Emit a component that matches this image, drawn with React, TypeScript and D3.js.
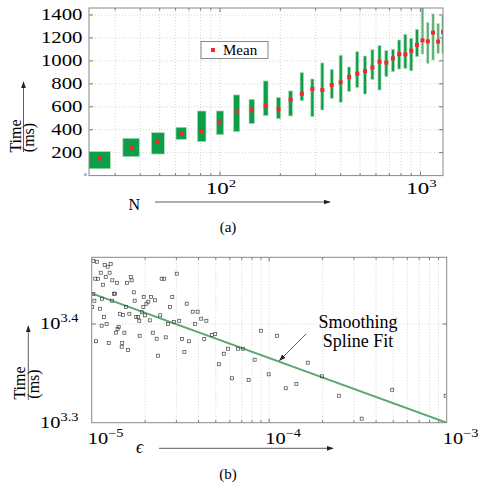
import * as d3 from 'd3';
import React, { useRef, useEffect } from 'react';

const W = 481;
const H = 485;
const FONT = '"Liberation Serif", "Times New Roman", serif';

// ---- panel (a): run time per problem size N (boxes = spread, dot = mean)
const sizesN = [25, 36, 49, 64, 81, 100, 121, 144, 169, 196, 225, 256, 289, 324, 361, 400,
  441, 484, 529, 576, 625, 676, 729, 784, 841, 900, 961, 1024, 1089, 1156, 1225, 1296];
const meanMs = [150, 249, 299, 366, 389, 464, 560, 569, 610, 578, 662, 714, 755, 746, 790, 813,
  859, 888, 911, 943, 993, 985, 1022, 1060, 1057, 1089, 1139, 1179, 1170, 1246, 1168, 1252];
const lowMs = [60, 165, 188, 316, 296, 357, 383, 453, 523, 496, 520, 653, 514, 572, 674, 639,
  734, 769, 711, 839, 746, 863, 906, 929, 935, 914, 1037, 1060, 978, 1008, 1066, 1066];
const highMs = [209, 325, 374, 421, 563, 563, 703, 665, 825, 682, 738, 897, 842, 982, 926, 1049,
  947, 1080, 1042, 1097, 1133, 1089, 1101, 1182, 1231, 1197, 1275, 1500, 1333, 1409, 1324, 1391];
const timeTicks = [200, 400, 600, 800, 1000, 1200, 1400];
const nMajor = [100, 1000];

// ---- panel (b): run time vs epsilon (log-log), with smoothing spline fit
const logEps = [-4.991, -4.970, -4.927, -4.910, -4.893, -4.949, -4.899, -4.980, -4.965, -4.921,
  -4.884, -4.858, -4.936, -4.801, -4.780, -4.775, -4.606, -4.591, -4.521, -4.991,
  -4.874, -4.869, -4.942, -4.985, -4.886, -4.763, -4.758, -4.707, -4.666, -4.681,
  -4.692, -4.643, -4.546, -4.465, -4.997, -4.953, -4.807, -4.709, -4.559, -4.431,
  -4.403, -4.383, -4.354, -4.841, -4.824, -4.788, -4.931, -4.749, -4.738, -4.732,
  -4.718, -4.700, -4.673, -4.614, -4.570, -4.536, -4.507, -4.418, -4.944, -4.916,
  -4.848, -4.854, -4.863, -4.816, -4.730, -4.656, -4.634, -4.583, -4.491, -4.452,
  -4.366, -4.976, -4.904, -4.828, -4.831, -4.796, -4.478, -4.627, -4.322, -4.304,
  -4.256, -4.232, -4.283, -4.176, -4.149, -4.210, -4.116, -4.082, -4.046, -4.003,
  -3.956, -3.907, -3.847, -3.783, -3.703, -3.607, -3.479, -3.307, -3.006];
const logTime = [3.4638, 3.4631, 3.4598, 3.4581, 3.4608, 3.4520, 3.4520, 3.4459, 3.4459, 3.4476,
  3.4443, 3.4418, 3.4398, 3.4418, 3.4476, 3.4443, 3.4459, 3.4459, 3.4510, 3.4304,
  3.4307, 3.4307, 3.4256, 3.4236, 3.4236, 3.4321, 3.4236, 3.4274, 3.4274, 3.4226,
  3.4206, 3.4240, 3.4274, 3.4206, 3.4172, 3.4155, 3.4172, 3.4172, 3.4172, 3.4125,
  3.4125, 3.4054, 3.4033, 3.4104, 3.4091, 3.4104, 3.4071, 3.4071, 3.4071, 3.4033,
  3.4119, 3.4088, 3.4037, 3.4088, 3.4000, 3.4020, 3.4033, 3.4000, 3.3983, 3.4000,
  3.3970, 3.3949, 3.3912, 3.3912, 3.3881, 3.3912, 3.3851, 3.3865, 3.3848, 3.3825,
  3.3848, 3.3825, 3.3807, 3.3807, 3.3770, 3.3737, 3.3716, 3.3679, 3.3889, 3.3899,
  3.3699, 3.3750, 3.3592, 3.3750, 3.3750, 3.3450, 3.3433, 3.3638, 3.3932, 3.3490,
  3.3881, 3.3349, 3.3392, 3.3608, 3.3470, 3.3274, 3.3041, 3.3334, 3.3274];
const fitLogEps = [-5, -3];
const fitLogTime = [3.4311, 3.3];
const epsMajor = [-5, -4, -3];
const timeMajor = [3.3, 3.4];

function addSup(sel, base, sup, size, rise) {
  sel.append('tspan').text(base);
  sel.append('tspan').attr('dy', -rise).attr('font-size', size).text(sup);
}

function App() {
  const ref = useRef(null);

  useEffect(() => {
    const svg = d3.select(ref.current);
    svg.selectAll('*').remove();
    svg.attr('font-family', FONT);

    const defs = svg.append('defs');
    defs.append('marker').attr('id', 'arr').attr('viewBox', '0 0 10 10')
      .attr('refX', 9).attr('refY', 5).attr('markerWidth', 7).attr('markerHeight', 7)
      .attr('markerUnits', 'userSpaceOnUse').attr('orient', 'auto')
      .append('path').attr('d', 'M0,1.5 L10,5 L0,8.5 Z').attr('fill', '#222');

    const arrow = (x1, y1, x2, y2) =>
      svg.append('line').attr('x1', x1).attr('y1', y1).attr('x2', x2).attr('y2', y2)
        .attr('stroke', '#333').attr('stroke-width', 0.8).attr('marker-end', 'url(#arr)');

    // ================= (a)
    const ax = { l: 89, r: 443, t: 8, b: 175.6 };
    const x = d3.scaleLog().domain([22.2, 1296]).range([ax.l, ax.r]);
    const y = d3.scaleLinear().domain([0, 1461]).range([ax.b, ax.t]);
    const ga = svg.append('g');

    defs.append('clipPath').attr('id', 'clipA').append('rect')
      .attr('x', ax.l).attr('y', ax.t).attr('width', ax.r - ax.l).attr('height', ax.b - ax.t);

    const nGrid = x.ticks().filter((d) => d > 22.2 && d < 1296);
    ga.selectAll('.vg').data(nGrid).join('line')
      .attr('x1', (d) => x(d)).attr('x2', (d) => x(d)).attr('y1', ax.t).attr('y2', ax.b)
      .attr('stroke', '#c8c8c8').attr('stroke-width', 0.8).attr('stroke-dasharray', '1,2');
    ga.selectAll('.hg').data(timeTicks).join('line')
      .attr('x1', ax.l).attr('x2', ax.r).attr('y1', (d) => y(d)).attr('y2', (d) => y(d))
      .attr('stroke', '#c8c8c8').attr('stroke-width', 0.8).attr('stroke-dasharray', '1,2');

    // ticks (inward, all four sides)
    ga.selectAll('.tb').data(nGrid).join('line')
      .attr('x1', (d) => x(d)).attr('x2', (d) => x(d))
      .attr('y1', ax.b).attr('y2', (d) => ax.b - (nMajor.includes(d) ? 4 : 2.5))
      .attr('stroke', '#777');
    ga.selectAll('.tt').data(nGrid).join('line')
      .attr('x1', (d) => x(d)).attr('x2', (d) => x(d))
      .attr('y1', ax.t).attr('y2', (d) => ax.t + (nMajor.includes(d) ? 4 : 2.5))
      .attr('stroke', '#777');
    ga.selectAll('.tl').data(timeTicks).join('line')
      .attr('x1', ax.l).attr('x2', ax.l + 4).attr('y1', (d) => y(d)).attr('y2', (d) => y(d))
      .attr('stroke', '#777');
    ga.selectAll('.tr').data(timeTicks).join('line')
      .attr('x1', ax.r).attr('x2', ax.r - 4).attr('y1', (d) => y(d)).attr('y2', (d) => y(d))
      .attr('stroke', '#777');

    // boxes + means
    const gb = ga.append('g').attr('clip-path', 'url(#clipA)');
    const boxW = (n) => Math.max(n >= 1024 ? 2.2 : 3, 22 * Math.pow(25 / n, 0.8));
    gb.selectAll('rect.box').data(sizesN).join('rect').attr('class', 'box')
      .attr('x', (d) => x(d) - boxW(d) / 2).attr('width', (d) => boxW(d))
      .attr('y', (d, i) => y(highMs[i])).attr('height', (d, i) => y(lowMs[i]) - y(highMs[i]))
      .attr('fill', (d) => (d >= 1024 ? '#5aac70' : '#0c9e48'))
      .attr('stroke', (d) => (d >= 1024 ? '#9dd1aa' : '#a9dab5'))
      .attr('stroke-width', (d) => (d >= 1024 ? 0.5 : 0.7));
    gb.selectAll('rect.mean').data(sizesN).join('rect').attr('class', 'mean')
      .attr('x', (d) => x(d) - 2).attr('y', (d, i) => y(meanMs[i]) - 2)
      .attr('width', 4).attr('height', 4).attr('fill', '#ee2a2c');

    ga.append('rect').attr('x', ax.l).attr('y', ax.t).attr('width', ax.r - ax.l)
      .attr('height', ax.b - ax.t).attr('fill', 'none').attr('stroke', '#888').attr('stroke-width', 1);

    // legend
    ga.append('rect').attr('x', 201).attr('y', 41.5).attr('width', 67).attr('height', 17)
      .attr('fill', '#fff').attr('stroke', '#888').attr('stroke-width', 1);
    ga.append('rect').attr('x', 211).attr('y', 48).attr('width', 4).attr('height', 4).attr('fill', '#ee2a2c');
    ga.append('text').attr('x', 223).attr('y', 55).attr('font-size', 15).text('Mean');

    // tick labels (the source renders its numerals wide)
    ga.selectAll('.yl').data(timeTicks).join('text')
      .attr('transform', (d) => `translate(82.5,${y(d) + 5.5}) scale(1.3,1)`)
      .attr('text-anchor', 'end').attr('font-size', 16).text((d) => d);
    ga.append('text').attr('x', 86.5).attr('y', 176).attr('text-anchor', 'end')
      .attr('font-size', 5).text('0');
    nMajor.forEach((d) => {
      const t = ga.append('text').attr('transform', `translate(${x(d) + 1},194) scale(1.35,1)`)
        .attr('text-anchor', 'middle').attr('font-size', 17);
      addSup(t, '10', String(Math.round(Math.log10(d))), 11, 7);
    });

    ga.append('text').attr('x', 128.5).attr('y', 210).attr('font-size', 16).text('N');
    arrow(155, 202, 330, 202);
    ga.append('text').attr('x', 228).attr('y', 232).attr('text-anchor', 'middle')
      .attr('font-size', 15).text('(a)');

    ga.append('text').attr('transform', 'translate(20.5,136) rotate(-90)')
      .attr('text-anchor', 'middle').attr('font-size', 16).text('Time');
    ga.append('text').attr('transform', 'translate(34,137.5) rotate(-90)')
      .attr('text-anchor', 'middle').attr('font-size', 16).text('(ms)');
    arrow(23.5, 152, 23.5, 82);

    // ================= (b)
    const bx = { l: 91.7, r: 446.7, t: 257.3, b: 422.7 };
    const xe = d3.scaleLog().domain([1e-5, 1e-3]).range([bx.l, bx.r]);
    const yt = d3.scaleLog().domain([Math.pow(10, 3.3), Math.pow(10, 3.4676)]).range([bx.b, bx.t]);
    const g2 = svg.append('g');

    defs.append('clipPath').attr('id', 'clipB').append('rect')
      .attr('x', bx.l).attr('y', bx.t).attr('width', bx.r - bx.l).attr('height', bx.b - bx.t);

    const eGrid = xe.ticks().filter((d) => d > 1.01e-5 && d < 0.99e-3);
    g2.selectAll('.vg').data(eGrid).join('line')
      .attr('x1', (d) => xe(d)).attr('x2', (d) => xe(d)).attr('y1', bx.t).attr('y2', bx.b)
      .attr('stroke', '#c8c8c8').attr('stroke-width', 0.8).attr('stroke-dasharray', '1,2');
    g2.append('line').attr('x1', bx.l).attr('x2', bx.r)
      .attr('y1', yt(Math.pow(10, 3.4))).attr('y2', yt(Math.pow(10, 3.4)))
      .attr('stroke', '#c8c8c8').attr('stroke-width', 0.8).attr('stroke-dasharray', '1,2');
    g2.selectAll('.tb').data(eGrid).join('line')
      .attr('x1', (d) => xe(d)).attr('x2', (d) => xe(d))
      .attr('y1', bx.b).attr('y2', (d) => bx.b - (Math.abs(Math.log10(d) % 1) < 1e-6 ? 4 : 2.5))
      .attr('stroke', '#777');
    g2.selectAll('.tt').data(eGrid).join('line')
      .attr('x1', (d) => xe(d)).attr('x2', (d) => xe(d))
      .attr('y1', bx.t).attr('y2', (d) => bx.t + (Math.abs(Math.log10(d) % 1) < 1e-6 ? 4 : 2.5))
      .attr('stroke', '#777');
    g2.append('line').attr('x1', bx.l).attr('x2', bx.l + 4)
      .attr('y1', yt(Math.pow(10, 3.4))).attr('y2', yt(Math.pow(10, 3.4))).attr('stroke', '#777');
    g2.append('line').attr('x1', bx.r).attr('x2', bx.r - 4)
      .attr('y1', yt(Math.pow(10, 3.4))).attr('y2', yt(Math.pow(10, 3.4))).attr('stroke', '#777');

    const gp = g2.append('g').attr('clip-path', 'url(#clipB)');
    const line = d3.line().x((d) => xe(Math.pow(10, d[0]))).y((d) => yt(Math.pow(10, d[1])));
    gp.append('path').datum(fitLogEps.map((e, i) => [e, fitLogTime[i]]))
      .attr('d', line).attr('fill', 'none').attr('stroke', '#5ea66f').attr('stroke-width', 2);
    gp.selectAll('rect.pt').data(logEps).join('rect').attr('class', 'pt')
      .attr('x', (d) => xe(Math.pow(10, d)) - 1.5)
      .attr('y', (d, i) => yt(Math.pow(10, logTime[i])) - 1.5)
      .attr('width', 3).attr('height', 3).attr('fill', 'none')
      .attr('stroke', '#444').attr('stroke-width', 0.7);

    g2.append('rect').attr('x', bx.l).attr('y', bx.t).attr('width', bx.r - bx.l)
      .attr('height', bx.b - bx.t).attr('fill', 'none').attr('stroke', '#888').attr('stroke-width', 1);

    epsMajor.forEach((d) => {
      const t = g2.append('text')
        .attr('transform', `translate(${xe(Math.pow(10, d)) + 14},443.5) scale(1.2,1)`)
        .attr('text-anchor', 'middle').attr('font-size', 17);
      addSup(t, '10', '\u2212' + String(-d), 12, 7);
    });
    timeMajor.forEach((d) => {
      const t = g2.append('text')
        .attr('transform', `translate(78.5,${yt(Math.pow(10, d)) + 5}) scale(1.2,1)`)
        .attr('text-anchor', 'end').attr('font-size', 17);
      addSup(t, '10', d.toFixed(1), 12, 7);
    });

    g2.append('text').attr('x', 358).attr('y', 327.5).attr('text-anchor', 'middle')
      .attr('font-size', 18).text('Smoothing');
    g2.append('text').attr('x', 358).attr('y', 347).attr('text-anchor', 'middle')
      .attr('font-size', 18).text('Spline Fit');
    arrow(306, 334, 279.5, 360.5);

    g2.append('text').attr('x', 136).attr('y', 453).attr('font-size', 18)
      .attr('font-style', 'italic').text('\u03f5');
    arrow(159, 448.3, 333, 448.3);
    g2.append('text').attr('x', 228).attr('y', 479).attr('text-anchor', 'middle')
      .attr('font-size', 15).text('(b)');

    g2.append('text').attr('transform', 'translate(25,383) rotate(-90)')
      .attr('text-anchor', 'middle').attr('font-size', 16).text('Time');
    g2.append('text').attr('transform', 'translate(39,384) rotate(-90)')
      .attr('text-anchor', 'middle').attr('font-size', 16).text('(ms)');
    arrow(28.3, 400, 28.3, 326);
  }, []);

  return (
    <svg ref={ref} width={W} height={H}
      style={{ position: 'absolute', left: 0, top: 0, background: '#fff' }} />
  );
}

export default App;
